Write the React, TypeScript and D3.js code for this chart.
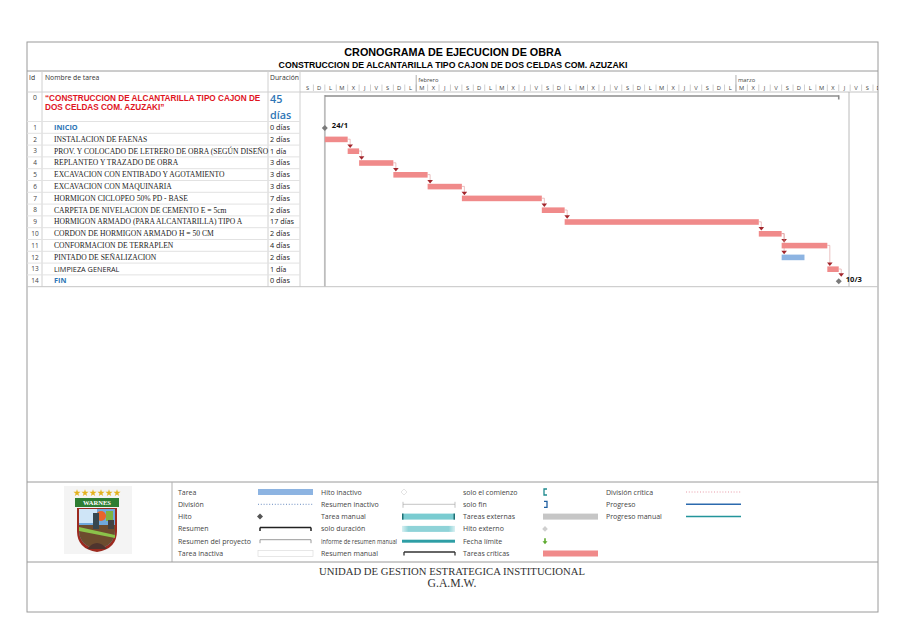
import * as d3 from "d3";

// ---- data -------------------------------------------------------------
const title = "CRONOGRAMA DE EJECUCION DE OBRA";
const subtitle = "CONSTRUCCION DE ALCANTARILLA TIPO CAJON DE DOS CELDAS COM. AZUZAKI";

const taskIds = [1, 2, 3, 4, 5, 6, 7, 8, 9, 10, 11, 12, 13, 14];
const taskNames = [
  "INICIO",
  "INSTALACION DE FAENAS",
  "PROV. Y COLOCADO DE LETRERO DE OBRA (SEGÚN DISEÑO",
  "REPLANTEO Y TRAZADO DE OBRA",
  "EXCAVACION CON ENTIBADO Y AGOTAMIENTO",
  "EXCAVACION CON MAQUINARIA",
  "HORMIGON CICLOPEO 50% PD - BASE",
  "CARPETA DE NIVELACION DE CEMENTO E = 5cm",
  "HORMIGON ARMADO (PARA ALCANTARILLA) TIPO A",
  "CORDON DE HORMIGON ARMADO  H = 50 CM",
  "CONFORMACION DE TERRAPLEN",
  "PINTADO DE SEÑALIZACION",
  "LIMPIEZA GENERAL",
  "FIN",
];
const durations = ["0 días", "2 días", "1 día", "3 días", "3 días", "3 días", "7 días", "2 días", "17 días", "2 días", "4 días", "2 días", "1 día", "0 días"];
// start / finish (exclusive) dates, 2022
const starts = ["2022-01-24", "2022-01-24", "2022-01-26", "2022-01-27", "2022-01-30", "2022-02-02", "2022-02-05", "2022-02-12", "2022-02-14", "2022-03-03", "2022-03-05", "2022-03-05", "2022-03-09", "2022-03-10"];
const finishes = ["2022-01-24", "2022-01-26", "2022-01-27", "2022-01-30", "2022-02-02", "2022-02-05", "2022-02-12", "2022-02-14", "2022-03-03", "2022-03-05", "2022-03-09", "2022-03-07", "2022-03-10", "2022-03-10"];
const milestoneLabels = ["24/1", "", "", "", "", "", "", "", "", "", "", "", "", "10/3"];
const critical = [true, true, true, true, true, true, true, true, true, true, true, false, true, true];
const predecessors = [0, 1, 2, 3, 4, 5, 6, 7, 8, 9, 10, 10, 11, 13];
// name styles: "blue" sans bold, "serif", "sans"
const nameStyle = ["blue", "serif", "serif", "serif", "serif", "serif", "serif", "serif", "serif", "serif", "serif", "serif", "sans", "blue"];

const summaryName = ["“CONSTRUCCION DE ALCANTARILLA TIPO CAJON DE", "DOS CELDAS COM. AZUZAKI”"];
const summaryDuration = ["45", "días"];
const summaryStart = "2022-01-24";
const summaryEnd = "2022-03-10";

const dayLetters = ["D", "L", "M", "X", "J", "V", "S"];
const monthNames = ["enero", "febrero", "marzo"];

const legendCols = [
  ["Tarea", "División", "Hito", "Resumen", "Resumen del proyecto", "Tarea inactiva"],
  ["Hito inactivo", "Resumen inactivo", "Tarea manual", "solo duración", "Informe de resumen manual", "Resumen manual"],
  ["solo el comienzo", "solo fin", "Tareas externas", "Hito externo", "Fecha límite", "Tareas críticas"],
  ["División crítica", "Progreso", "Progreso manual"],
];

const footer = ["UNIDAD DE GESTION ESTRATEGICA INSTITUCIONAL", "G.A.M.W."];

// ---- layout -----------------------------------------------------------
const W = 905, H = 640;
const L = 27, R = 878, T = 42, B = 612;
const colId = 42, colDur = 268, colGantt = 300;
const headTop = 71, headBot = 92;
const row0Bot = 121.5, rowH = 11.8;
const tableBot = row0Bot + taskIds.length * rowH;

const parse = (s: string) => new Date(s + "T00:00:00Z");
const dayW = 11.42;
const domStart = parse("2022-01-22");
const domEnd = d3.utcDay.offset(domStart, 51);
const x = d3.scaleUtc().domain([domStart, domEnd]).range([302, 302 + 51 * dayW]);

const rowTop = (i: number) => row0Bot + i * rowH;
const rowMid = (i: number) => rowTop(i) + rowH / 2;

const CRIT = "#F08A8A";
const BLUE = "#8DB4E2";
const LINK = "#A3262C";
const SANS = "'Open Sans', 'DejaVu Sans', sans-serif";
const ARIAL = "'Liberation Sans', Arial, sans-serif";
const SERIF = "'Liberation Serif', 'Times New Roman', serif";

function Diamond({ cx, cy, r, fill, stroke }: { cx: number; cy: number; r: number; fill: string; stroke?: string }) {
  return <path d={`M${cx},${cy - r}L${cx + r},${cy}L${cx},${cy + r}L${cx - r},${cy}Z`} fill={fill} stroke={stroke ?? "none"} strokeWidth={0.8} />;
}

function Bracket({ x0, x1, y, color, w, up }: { x0: number; x1: number; y: number; color: string; w: number; up?: boolean }) {
  const t = up ? y - 2.5 : y;
  return (
    <g stroke={color} fill="none">
      <line x1={x0} x2={x1} y1={y} y2={y} strokeWidth={w} />
      <line x1={x0} x2={x0} y1={t} y2={y + 3.5} strokeWidth={w} />
      <line x1={x1} x2={x1} y1={t} y2={y + 3.5} strokeWidth={w} />
    </g>
  );
}

function Logo() {
  const cx = 97, top = 489;
  const stars = d3.range(6).map((i) => cx - 20 + i * 8);
  const star = d3.symbol().type(d3.symbolStar).size(16)();
  return (
    <g>
      <rect x={64} y={486} width={68} height={68} fill="#f4f4f4" />
      {stars.map((sx, i) => (
        <path key={i} d={star ?? ""} transform={`translate(${sx},${top + 4})`} fill="#E3B21E" />
      ))}
      <rect x={75} y={top + 9} width={44} height={9} fill="#2E7D32" />
      <text x={cx} y={top + 16} textAnchor="middle" fontFamily={SERIF} fontWeight="bold" fontSize={6.5} fill="#fff">WARNES</text>
      <path d={`M77,${top + 19}H117V${top + 42}Q117,${top + 60} 97,${top + 63}Q77,${top + 60} 77,${top + 42}Z`} fill="#9C2A1F" />
      <path d={`M79,${top + 20}H115V${top + 41}Q115,${top + 57} 97,${top + 60}Q79,${top + 57} 79,${top + 41}Z`} fill="#6FA8DC" />
      <path d={`M79,${top + 20}H97V${top + 34}H79Z`} fill="#cfe5f7" />
      <circle cx={101} cy={top + 27} r={5} fill="#E8632B" />
      <rect x={106} y={top + 22} width={7} height={10} fill="#7CB342" />
      <path d={`M79,${top + 36}H115V${top + 41}Q115,${top + 57} 97,${top + 60}Q79,${top + 57} 79,${top + 41}Z`} fill="#6D4C2E" />
      <path d={`M79,${top + 38}L115,${top + 46}V${top + 49}L79,${top + 42}Z`} fill="#8BC34A" />
      <rect x={93} y={top + 24} width={6} height={16} fill="#37474F" />
      <path d={`M87,${top + 60}Q97,${top + 48} 107,${top + 60}Z`} fill="#4E342E" />
      <path d={`M108,${top + 31}h6v9h-6z`} fill="#424242" />
    </g>
  );
}

export default function App() {
  const days = d3.utcDay.range(domStart, domEnd);
  const months = d3.utcMonth.range(d3.utcMonth.ceil(domStart), domEnd);

  const legendRowY = [492, 504.3, 516.6, 528.9, 541.2, 553.5];
  const legendLabelX = [178, 321, 463, 606];
  const legendSampleX = [258, 402, 543, 686];
  const sampleW = 55;

  const drawSample = (c: number, r: number) => {
    const x0 = legendSampleX[c], x1 = x0 + sampleW, y = legendRowY[r];
    const key = `${c}-${r}`;
    if (c === 0) {
      if (r === 0) return <rect key={key} x={x0} y={y - 3} width={sampleW} height={6} fill={BLUE} />;
      if (r === 1) return <line key={key} x1={x0} x2={x1} y1={y} y2={y} stroke="#6A8CC0" strokeWidth={1} strokeDasharray="1,1.8" />;
      if (r === 2) return <Diamond key={key} cx={x0 + 2} cy={y} r={3} fill="#555" />;
      if (r === 3) return <Bracket key={key} x0={x0 + 2} x1={x1 - 2} y={y - 1.5} color="#222" w={1.5} />;
      if (r === 4) return <Bracket key={key} x0={x0 + 2} x1={x1 - 2} y={y - 1.5} color="#9a9a9a" w={1} />;
      return <rect key={key} x={x0} y={y - 3} width={sampleW} height={6} fill="#fff" stroke="#d8d8d8" strokeWidth={0.6} />;
    }
    if (c === 1) {
      if (r === 0) return <Diamond key={key} cx={x0 + 2} cy={y} r={3} fill="#fff" stroke="#ddd" />;
      if (r === 1) return <Bracket key={key} x0={x0 + 1} x1={x1 - 2} y={y} color="#aaa" w={0.7} up />;
      if (r === 2)
        return (
          <g key={key}>
            <rect x={x0} y={y - 3} width={sampleW - 2} height={6} fill="#7ACCD1" />
            <rect x={x0} y={y - 3} width={1.5} height={6} fill="#1F6F74" />
            <rect x={x1 - 3.5} y={y - 3} width={1.5} height={6} fill="#1F6F74" />
          </g>
        );
      if (r === 3) {
        return (
          <g key={key}>
            <defs>
              <linearGradient id="solodur" x1="0" x2="1">
                <stop offset="0" stopColor="#d8f0f2" />
                <stop offset="0.12" stopColor="#8fd3d8" />
                <stop offset="0.88" stopColor="#8fd3d8" />
                <stop offset="1" stopColor="#d8f0f2" />
              </linearGradient>
            </defs>
            <rect x={x0} y={y - 3} width={sampleW - 2} height={6} fill="url(#solodur)" />
          </g>
        );
      }
      if (r === 4) return <rect key={key} x={x0} y={y - 1.5} width={sampleW - 2} height={3} fill="#2E9EA5" />;
      return <Bracket key={key} x0={x0 + 2} x1={x1 - 2} y={y - 1.5} color="#333" w={1.3} />;
    }
    if (c === 2) {
      if (r === 0) return <path key={key} d={`M${x0 + 4},${y - 3}H${x0 + 1}V${y + 3}H${x0 + 4}`} fill="none" stroke="#1F8A8F" strokeWidth={1.3} />;
      if (r === 1) return <path key={key} d={`M${x0 + 1},${y - 3}H${x0 + 4}V${y + 3}H${x0 + 1}`} fill="none" stroke="#1F5FA0" strokeWidth={1.3} />;
      if (r === 2) return <rect key={key} x={x0} y={y - 3} width={sampleW} height={6} fill="#C6C6C6" />;
      if (r === 3) return <Diamond key={key} cx={x0 + 2} cy={y} r={2.8} fill="#cfcfcf" />;
      if (r === 4) return <path key={key} d={`M${x0 + 2},${y + 3}L${x0 - 0.5},${y}H${x0 + 1.2}V${y - 3}H${x0 + 2.8}V${y}H${x0 + 4.5}Z`} fill="#5DAA2E" />;
      return <rect key={key} x={x0} y={y - 3} width={sampleW} height={6} fill={CRIT} />;
    }
    if (r === 0) return <line key={key} x1={x0} x2={x1} y1={y} y2={y} stroke="#E89BA8" strokeWidth={1} strokeDasharray="1,1.8" />;
    if (r === 1) return <line key={key} x1={x0} x2={x1} y1={y} y2={y} stroke="#2C6AAE" strokeWidth={1.5} />;
    return <line key={key} x1={x0} x2={x1} y1={y} y2={y} stroke="#23959B" strokeWidth={1.5} />;
  };

  return (
    <svg width={W} height={H} style={{ position: "absolute", left: 0, top: 0, background: "#fff" }}>
      <defs>
        <clipPath id="ganttClip">
          <rect x={colGantt} y={headTop} width={R - colGantt} height={tableBot - headTop} />
        </clipPath>
      </defs>

      {/* frame */}
      <rect x={L} y={T} width={R - L} height={B - T} fill="#fff" stroke="#9a9a9a" strokeWidth={1} />
      <text x={453} y={56} textAnchor="middle" fontFamily={ARIAL} fontWeight="bold" fontSize={10.8}>{title}</text>
      <text x={453} y={67.5} textAnchor="middle" fontFamily={ARIAL} fontWeight="bold" fontSize={8.7}>{subtitle}</text>
      <line x1={L} x2={R} y1={headTop} y2={headTop} stroke="#9a9a9a" />

      {/* table */}
      <g fontFamily={SANS}>
        <text x={29} y={80} fontSize={6.8} fill="#333">Id</text>
        <text x={45} y={80} fontSize={6.8} fill="#333">Nombre de tarea</text>
        <text x={270} y={80} fontSize={6.8} fill="#333">Duración</text>
        <line x1={L} x2={colGantt} y1={headBot} y2={headBot} stroke="#d0d0d0" />
        {[colId, colDur, colGantt].map((cx) => (
          <line key={cx} x1={cx} x2={cx} y1={headTop} y2={tableBot} stroke="#d0d0d0" />
        ))}
        <text x={35} y={100} fontSize={6.8} fill="#444" textAnchor="middle">0</text>
        {summaryName.map((s, i) => (
          <text key={i} x={45} y={100.5 + i * 9} fontFamily={ARIAL} fontWeight="bold" fontSize={8.2} fill="#E0141E">{s}</text>
        ))}
        <text x={270} y={103} fontSize={10.8} fontWeight="600" fill="#2E75B6">{summaryDuration[0]}</text>
        <text x={270} y={118.5} fontSize={10.8} fontWeight="600" fill="#2E75B6">{summaryDuration[1]}</text>
        {taskIds.map((id, i) => (
          <g key={id}>
            <line x1={L} x2={colGantt} y1={rowTop(i)} y2={rowTop(i)} stroke="#e2e2e2" />
            <text x={35} y={rowMid(i) + 2.4} fontSize={6.5} fill="#444" textAnchor="middle">{id}</text>
            {nameStyle[i] === "serif" ? (
              <text x={54} y={rowMid(i) + 2.6} fontFamily={SERIF} fontSize={7.6} fill="#222">{taskNames[i]}</text>
            ) : nameStyle[i] === "blue" ? (
              <text x={54} y={rowMid(i) + 2.6} fontSize={7.3} fontWeight="bold" fill="#2E75B6">{taskNames[i]}</text>
            ) : (
              <text x={54} y={rowMid(i) + 2.6} fontSize={7.3} fill="#222">{taskNames[i]}</text>
            )}
            <text x={270} y={rowMid(i) + 2.6} fontSize={7.3} fill="#222">{durations[i]}</text>
          </g>
        ))}
      </g>
      <line x1={L} x2={R} y1={tableBot} y2={tableBot} stroke="#c4c4c4" />

      {/* gantt */}
      <g clipPath="url(#ganttClip)" fontFamily={SANS}>
        {months.map((m, i) => (
          <g key={i}>
            <line x1={x(m)} x2={x(m)} y1={75} y2={headBot} stroke="#9a9a9a" strokeWidth={0.8} />
            <text x={x(m) + 2} y={82} fontSize={5.8} fill="#444">{monthNames[m.getUTCMonth()]}</text>
          </g>
        ))}
        {days.map((d, i) => (
          <g key={i}>
            {i > 0 && <line x1={x(d)} x2={x(d)} y1={84.5} y2={91} stroke="#b0b0b0" strokeWidth={0.6} />}
            <text x={x(d) + dayW / 2} y={90} fontSize={5.8} textAnchor="middle" fill="#444">{dayLetters[d.getUTCDay()]}</text>
          </g>
        ))}
        <line x1={colGantt} x2={R} y1={headBot} y2={headBot} stroke="#c4c4c4" />

        {/* project start and status lines */}
        <line x1={x(parse(summaryStart))} x2={x(parse(summaryStart))} y1={95} y2={tableBot} stroke="#bdbdbd" strokeWidth={1.8} />
        <line x1={849} x2={849} y1={headBot} y2={tableBot} stroke="#a8a8a8" strokeWidth={0.8} />

        {/* summary */}
        <g stroke="#8c8c8c">
          <line x1={x(parse(summaryStart))} x2={x(parse(summaryEnd))} y1={96} y2={96} strokeWidth={1.6} />
          <line x1={x(parse(summaryEnd))} x2={x(parse(summaryEnd))} y1={95.2} y2={99.5} strokeWidth={1.6} />
        </g>

        {/* links */}
        {taskIds.map((id, i) => {
          const p = predecessors[i];
          if (!p) return null;
          const pi = taskIds.indexOf(p);
          if (starts[pi] === finishes[pi]) return null;
          const xe = x(parse(finishes[pi]));
          const ye = rowMid(pi);
          const xs = x(parse(starts[i])) + 2.5;
          const isMs = starts[i] === finishes[i];
          const yTop = rowMid(i) - (isMs ? 4 : 3);
          return (
            <g key={`l${id}`}>
              <path d={`M${xe},${ye}H${xs}V${yTop - 3}`} fill="none" stroke="#d99" strokeWidth={0.6} />
              <path d={`M${xs - 2.8},${yTop - 3.5}H${xs + 2.8}L${xs},${yTop}Z`} fill={LINK} />
            </g>
          );
        })}

        {/* bars & milestones */}
        {taskIds.map((id, i) => {
          const x0 = x(parse(starts[i]));
          const x1 = x(parse(finishes[i]));
          const cy = rowMid(i);
          if (x0 === x1) {
            return (
              <g key={`b${id}`}>
                <Diamond cx={x0} cy={cy + 0.5} r={3} fill="#7a7a7a" />
                <text x={x0 + 7} y={cy + 1} fontSize={7.6} fontWeight="bold" fill="#111">{milestoneLabels[i]}</text>
              </g>
            );
          }
          return <rect key={`b${id}`} x={x0} y={cy - 2.6} width={x1 - x0} height={5.6} fill={critical[i] ? CRIT : BLUE} />;
        })}
      </g>

      {/* legend */}
      <line x1={L} x2={R} y1={482} y2={482} stroke="#9a9a9a" />
      <line x1={172} x2={172} y1={482} y2={562} stroke="#b0b0b0" />
      <Logo />
      <g fontFamily={SANS} fontSize={7} fill="#444">
        {legendCols.map((col, c) =>
          col.map((label, r) => (
            <g key={`${c}-${r}`}>
              {label.length > 22 ? (
                <text x={legendLabelX[c]} y={legendRowY[r] + 2.5} textLength={76} lengthAdjust="spacingAndGlyphs">{label}</text>
              ) : (
                <text x={legendLabelX[c]} y={legendRowY[r] + 2.5}>{label}</text>
              )}
              {drawSample(c, r)}
            </g>
          ))
        )}
      </g>
      <line x1={L} x2={R} y1={562} y2={562} stroke="#9a9a9a" />

      {/* footer */}
      <text x={452} y={574.5} textAnchor="middle" fontFamily={SERIF} fontSize={10.7} fill="#333">{footer[0]}</text>
      <text x={452} y={587} textAnchor="middle" fontFamily={SERIF} fontSize={11.7} fill="#333">{footer[1]}</text>
    </svg>
  );
}
